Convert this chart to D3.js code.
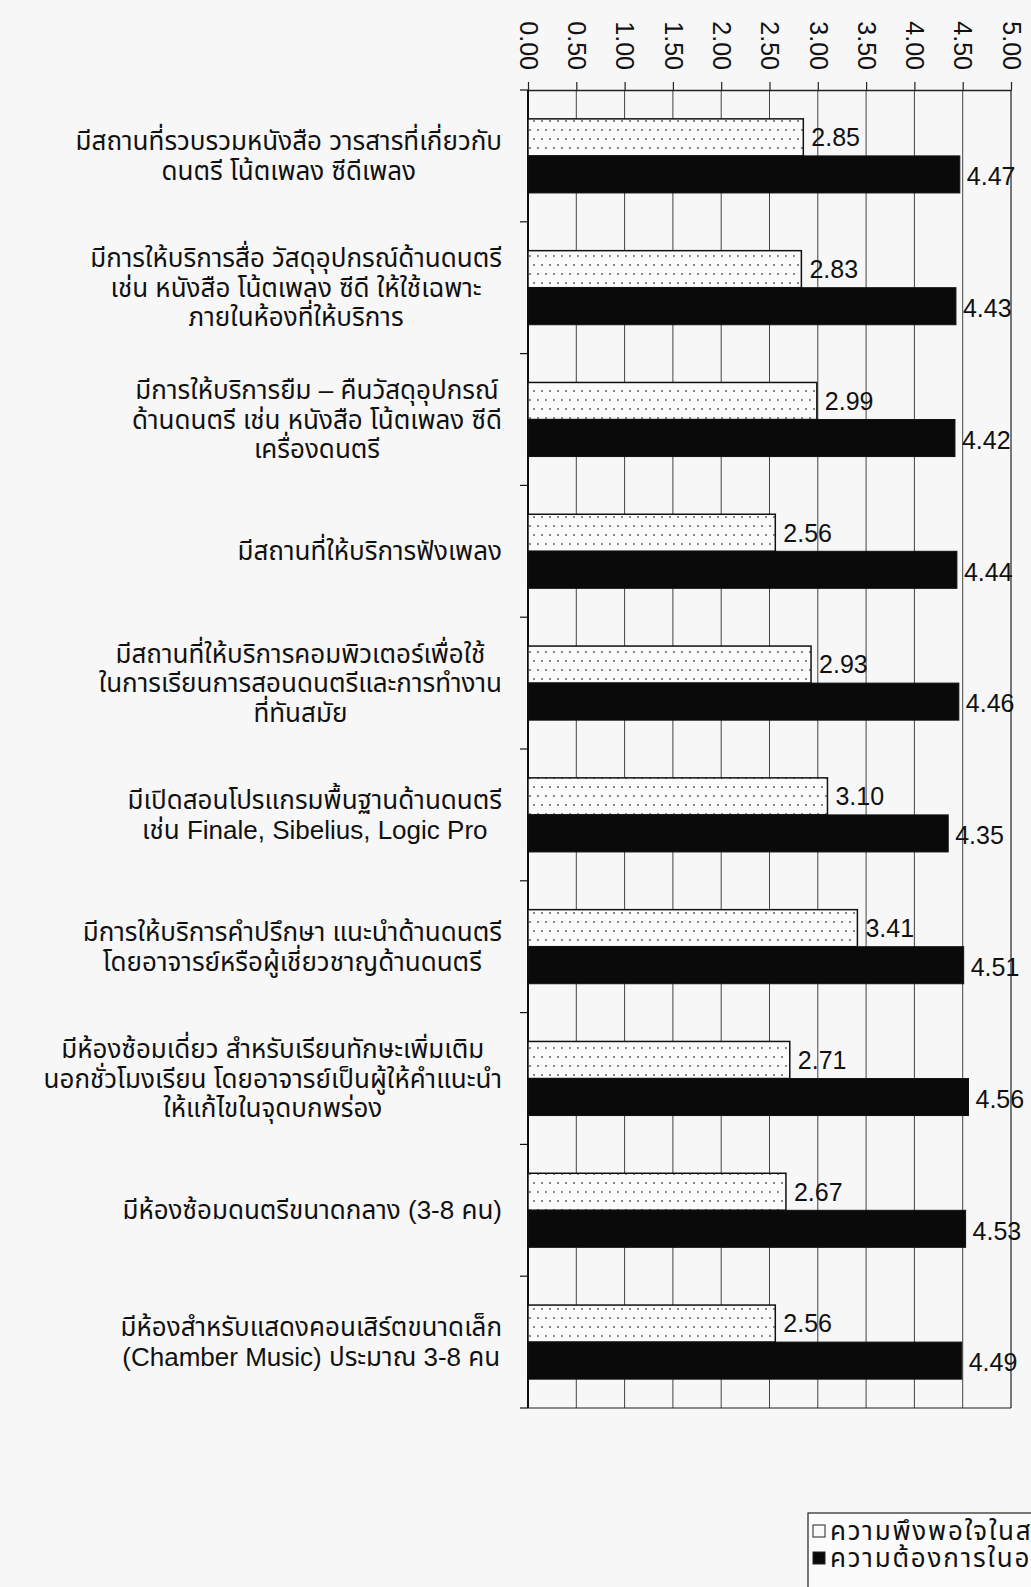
<!DOCTYPE html>
<html><head><meta charset="utf-8">
<script src="https://cdn.jsdelivr.net/npm/d3@7"></script>
<style>
html,body{margin:0;padding:0;background:#f7f7f7;overflow:hidden;}
svg{display:block;}
</style></head>
<body>
<svg id="chart" width="1031" height="1587"></svg>
<script>
const categories = [
  ["มีสถานที่รวบรวมหนังสือ วารสารที่เกี่ยวกับ","ดนตรี โน้ตเพลง ซีดีเพลง"],
  ["มีการให้บริการสื่อ วัสดุอุปกรณ์ด้านดนตรี","เช่น หนังสือ โน้ตเพลง ซีดี ให้ใช้เฉพาะ","ภายในห้องที่ให้บริการ"],
  ["มีการให้บริการยืม – คืนวัสดุอุปกรณ์","ด้านดนตรี เช่น หนังสือ โน้ตเพลง ซีดี","เครื่องดนตรี"],
  ["มีสถานที่ให้บริการฟังเพลง"],
  ["มีสถานที่ให้บริการคอมพิวเตอร์เพื่อใช้","ในการเรียนการสอนดนตรีและการทำงาน","ที่ทันสมัย"],
  ["มีเปิดสอนโปรแกรมพื้นฐานด้านดนตรี","เช่น Finale, Sibelius, Logic Pro"],
  ["มีการให้บริการคำปรึกษา แนะนำด้านดนตรี","โดยอาจารย์หรือผู้เชี่ยวชาญด้านดนตรี"],
  ["มีห้องซ้อมเดี่ยว สำหรับเรียนทักษะเพิ่มเติม","นอกชั่วโมงเรียน โดยอาจารย์เป็นผู้ให้คำแนะนำ","ให้แก้ไขในจุดบกพร่อง"],
  ["มีห้องซ้อมดนตรีขนาดกลาง  (3-8 คน)"],
  ["มีห้องสำหรับแสดงคอนเสิร์ตขนาดเล็ก","(Chamber Music) ประมาณ 3-8 คน"]
];
const currentValues = [2.85, 2.83, 2.99, 2.56, 2.93, 3.10, 3.41, 2.71, 2.67, 2.56];
const futureValues  = [4.47, 4.43, 4.42, 4.44, 4.46, 4.35, 4.51, 4.56, 4.53, 4.49];
const seriesNames = ["ความพึงพอใจในสภาพปัจจุบัน", "ความต้องการในอนาคต"];
const tickValues = [0, 0.5, 1, 1.5, 2, 2.5, 3, 3.5, 4, 4.5, 5];

const FONT = "'Liberation Sans', Arial, 'Noto Sans Thai', Loma, Garuda, sans-serif";
const svg = d3.select("#chart");
const idx = d3.range(categories.length);

const x = d3.scaleLinear().domain([0, 5]).range([528, 1011]);
const y = d3.scaleBand().domain(idx).range([90, 1408]).paddingInner(0).paddingOuter(0);
const sub = d3.scaleBand().domain(["cur", "fut"]).range([y.bandwidth()*0.219, y.bandwidth()*0.781]).padding(0);

// pattern
const defs = svg.append("defs");
const pat = defs.append("pattern").attr("id","dots").attr("patternUnits","userSpaceOnUse")
  .attr("width", 8).attr("height", 18);
pat.append("rect").attr("width",8).attr("height",18).attr("fill","#fbfbfb");
pat.append("circle").attr("cx",2).attr("cy",4).attr("r",0.9).attr("fill","#555");
pat.append("circle").attr("cx",6).attr("cy",13).attr("r",0.9).attr("fill","#555");

// gridlines
svg.append("g").selectAll("line").data(tickValues.filter(t => t > 0 && t < 5)).join("line")
  .attr("x1", d => x(d)).attr("x2", d => x(d))
  .attr("y1", y.range()[0]).attr("y2", y.range()[1])
  .attr("stroke", "#444").attr("stroke-width", 1);

// right & bottom border
svg.append("line").attr("x1", x(5)).attr("x2", x(5)).attr("y1", y.range()[0]).attr("y2", y.range()[1])
  .attr("stroke","#222").attr("stroke-width",1.2);
svg.append("line").attr("x1", x(0)).attr("x2", x(5)).attr("y1", y.range()[1]).attr("y2", y.range()[1])
  .attr("stroke","#222").attr("stroke-width",1.2);

// top axis
const xAxis = d3.axisTop(x).tickValues(tickValues).tickFormat(d3.format(".2f")).tickSize(8).tickSizeOuter(0);
const gx = svg.append("g").attr("transform", `translate(0,${y.range()[0]})`).call(xAxis);
gx.select(".domain").attr("stroke","#222").attr("stroke-width",1.5);
gx.selectAll(".tick line").attr("stroke","#222").attr("stroke-width",1.2);
gx.selectAll(".tick text")
  .attr("font-family", FONT).attr("font-size", 25).attr("fill","#111")
  .attr("transform", "rotate(90)")
  .attr("x", -20).attr("y", 0).attr("dy", "0.35em")
  .attr("text-anchor", "end");

// left axis (category boundaries)
const bounds = idx.map(i => y(i)).concat([y.range()[1]]);
svg.append("line").attr("x1", x(0)).attr("x2", x(0)).attr("y1", y.range()[0]).attr("y2", y.range()[1])
  .attr("stroke","#111").attr("stroke-width",2);
svg.append("g").selectAll("line").data(bounds).join("line")
  .attr("x1", x(0) - 8).attr("x2", x(0)).attr("y1", d => d).attr("y2", d => d)
  .attr("stroke","#111").attr("stroke-width",1.2);

// bars
const barG = svg.append("g");
barG.selectAll("rect.cur").data(idx).join("rect").attr("class","cur")
  .attr("x", x(0)).attr("y", i => y(i) + sub("cur"))
  .attr("width", i => x(currentValues[i]) - x(0)).attr("height", sub.bandwidth())
  .attr("fill","url(#dots)").attr("stroke","#111").attr("stroke-width",1.5);
barG.selectAll("rect.fut").data(idx).join("rect").attr("class","fut")
  .attr("x", x(0)).attr("y", i => y(i) + sub("fut"))
  .attr("width", i => x(futureValues[i]) - x(0)).attr("height", sub.bandwidth())
  .attr("fill","#0a0a0a").attr("stroke","#111").attr("stroke-width",1);

// value labels
const fmt = d3.format(".2f");
barG.selectAll("text.vc").data(idx).join("text")
  .attr("x", i => x(currentValues[i]) + 8).attr("y", i => y(i) + sub("cur") + sub.bandwidth()/2)
  .attr("dy","0.35em").attr("font-family", FONT).attr("font-size", 25).attr("fill","#111")
  .text(i => fmt(currentValues[i]));
barG.selectAll("text.vf").data(idx).join("text")
  .attr("x", i => x(futureValues[i]) + 7).attr("y", i => y(i) + sub("fut") + sub.bandwidth()/2 + 2)
  .attr("dy","0.35em").attr("font-family", FONT).attr("font-size", 25).attr("fill","#111")
  .text(i => fmt(futureValues[i]));

// category labels: block right-aligned at 502, lines centered within block
const LINE_H = 29.5;
const RIGHT = 502;
idx.forEach(i => {
  const lines = categories[i];
  const g = svg.append("g");
  const cy = y(i) + y.bandwidth()/2;
  const texts = g.selectAll("text").data(lines).join("text")
    .attr("font-family", FONT).attr("font-size", 26).attr("fill","#111")
    .attr("text-anchor","middle").attr("dy","0.35em")
    .attr("y", (d, k) => cy + (k - (lines.length - 1)/2) * LINE_H)
    .text(d => d);
  let maxW = 0;
  texts.each(function(){ maxW = Math.max(maxW, this.getComputedTextLength()); });
  texts.attr("x", RIGHT - maxW/2);
});

// legend (cut off at the right edge, as in the source picture)
const lg = svg.append("g");
lg.append("rect").attr("x", 808).attr("y", 1513).attr("width", 400).attr("height", 120)
  .attr("fill","#fbfbfb").attr("stroke","#222").attr("stroke-width",1.2);
const items = [
  {name: seriesNames[0], fill: "#fbfbfb"},
  {name: seriesNames[1], fill: "#0a0a0a"}
];
items.forEach((it, k) => {
  const yy = 1525 + k * 27;
  lg.append("rect").attr("x", 813).attr("y", yy).attr("width", 12).attr("height", 12)
    .attr("fill", it.fill).attr("stroke","#222").attr("stroke-width",1);
  lg.append("text").attr("x", 830).attr("y", yy + 6).attr("dy","0.35em")
    .attr("font-family", FONT).attr("font-size", 26).attr("letter-spacing", 1.8)
    .attr("fill","#111").text(it.name);
});
</script>
</body></html>
